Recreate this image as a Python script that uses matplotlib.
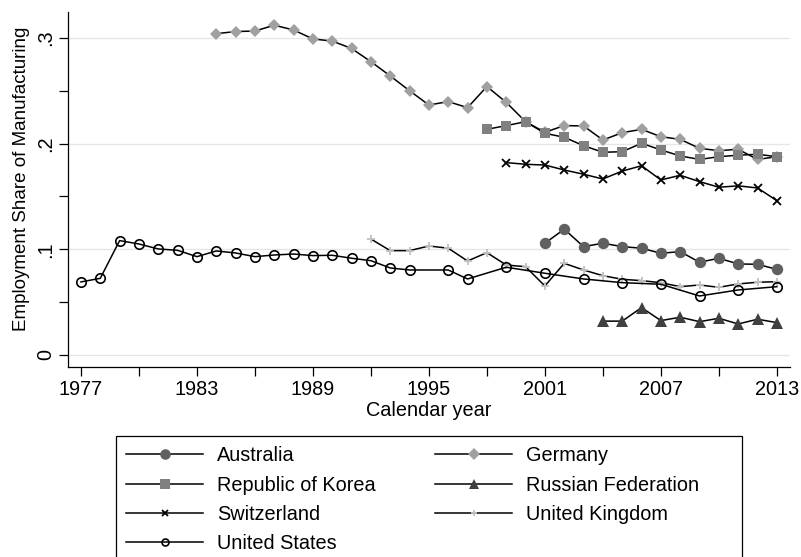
import matplotlib
matplotlib.use("Agg")
import matplotlib.pyplot as plt
from matplotlib.lines import Line2D
from matplotlib.patches import Rectangle
from matplotlib.ticker import MultipleLocator

plt.rcParams['font.family'] = ['Liberation Sans', 'DejaVu Sans']

# data
aus_years = list(range(2001, 2014))
aus_vals = [0.1057, 0.119, 0.1025, 0.1057, 0.1025, 0.101, 0.0962, 0.0978,
            0.0877, 0.0915, 0.0861, 0.0858, 0.081]

ger_years = list(range(1984, 2014))
ger_vals = [0.304, 0.306, 0.3065, 0.312, 0.3075, 0.299, 0.297, 0.290, 0.2775,
            0.264, 0.250, 0.2365, 0.2397, 0.234, 0.254, 0.239, 0.2207, 0.2107,
            0.217, 0.2167, 0.2034, 0.2103, 0.2135, 0.2065, 0.204, 0.1955,
            0.1933, 0.1946, 0.185, 0.1876]

kor_years = list(range(1998, 2014))
kor_vals = [0.2135, 0.217, 0.2207, 0.2097, 0.206, 0.198, 0.1918, 0.1923,
            0.2003, 0.194, 0.1883, 0.185, 0.1876, 0.189, 0.1899, 0.1876]

rus_years = list(range(2004, 2014))
rus_vals = [0.032, 0.032, 0.0448, 0.0325, 0.0357, 0.0315, 0.0347, 0.0293,
            0.0338, 0.0306]

swi_years = list(range(1999, 2014))
swi_vals = [0.182, 0.1804, 0.1797, 0.175, 0.171, 0.1665, 0.174, 0.179, 0.1656,
            0.170, 0.164, 0.1587, 0.160, 0.158, 0.146]

uk_years = list(range(1992, 2014))
uk_vals = [0.1097, 0.0987, 0.0987, 0.1031, 0.101, 0.0889, 0.0968, 0.0851,
           0.0835, 0.0653, 0.0867, 0.0804, 0.075, 0.0716, 0.0703, 0.0684,
           0.0646, 0.0662, 0.064, 0.0672, 0.0688, 0.0693]

us_years = list(range(1977, 1995)) + [1996, 1997, 1999, 2001, 2003, 2005,
                                      2007, 2009, 2011, 2013]
us_vals = [0.0691, 0.0725, 0.1082, 0.105, 0.1003, 0.099, 0.093, 0.0984, 0.0965,
           0.093, 0.0946, 0.0955, 0.094, 0.0943, 0.0915, 0.0892, 0.0823, 0.0804,
           0.0804, 0.0719, 0.083, 0.0773, 0.0719, 0.0684, 0.0669, 0.0558,
           0.0615, 0.0646]

xticks = [1977, 1983, 1989, 1995, 2001, 2007, 2013]
yticks = [0, 0.1, 0.2, 0.3]
ytick_labels = ['0', '.1', '.2', '.3']

FS = 14.3

# (label, years, values, marker, colour, size in plot, size in legend, edge width)
series = [
    ('Australia', aus_years, aus_vals, 'o', '#606060', 8.2, 7.6, 0),
    ('Germany', ger_years, ger_vals, 'D', '#a0a0a0', 6.6, 6.0, 0),
    ('Republic of Korea', kor_years, kor_vals, 's', '#808080', 7.4, 7.4, 0),
    ('Russian Federation', rus_years, rus_vals, '^', '#404040', 8.6, 7.6, 0),
    ('Switzerland', swi_years, swi_vals, 'x', 'black', 5.2, 4.0, 1.3),
    ('United Kingdom', uk_years, uk_vals, '+', '#c0c0c0', 6.0, 5.0, 1.3),
    ('United States', us_years, us_vals, 'o', 'none', 6.8, 5.0, 1.2),
]

fig = plt.figure(figsize=(8.01, 5.57), dpi=100)
ax = fig.add_axes([68 / 801, 1 - 367 / 557, 722 / 801, 355 / 557])


def marker_style(mk, col, mew):
    if mk in ('x', '+'):
        return dict(mec=col, mew=mew)
    if col == 'none':
        return dict(mfc='none', mec='black', mew=mew)
    return dict(mfc=col, mec=col, mew=0)


handles = {}
for name, yrs, vals, mk, col, ms, ms_leg, mew in series:
    st = marker_style(mk, col, mew)
    ax.plot(yrs, vals, color='black', lw=1.1, marker=mk, ms=ms, zorder=3, **st)
    handles[name] = Line2D([], [], color='black', lw=1.1, marker=mk,
                           ms=ms_leg, **st)

ax.set_xlim(1976.33, 2013.68)
ax.set_ylim(-0.0114, 0.3245)
ax.set_xticks(xticks)
ax.xaxis.set_minor_locator(MultipleLocator(3))
ax.set_yticks(yticks)
ax.set_yticklabels(ytick_labels, rotation=90, va='center')
ax.yaxis.set_minor_locator(MultipleLocator(0.05))
ax.tick_params(which='both', direction='out', length=6.5, width=0.9,
               labelsize=FS, colors='black')
ax.tick_params(axis='x', pad=3)
ax.tick_params(axis='y', pad=3)
ax.grid(axis='y', which='major', color='#e6e6e6', lw=1.0, zorder=0)
ax.set_axisbelow(True)
for s in ['top', 'right']:
    ax.spines[s].set_visible(False)
for s in ['left', 'bottom']:
    ax.spines[s].set_linewidth(0.9)

ax.set_xlabel('Calendar year', fontsize=FS, labelpad=1)
ax.set_ylabel('Employment Share of Manufacturing', fontsize=13.5)
ax.yaxis.set_label_coords(-0.052, 0.53)

order = ['Australia', 'Republic of Korea', 'Switzerland', 'United States',
         'Germany', 'Russian Federation', 'United Kingdom']
leg = fig.legend([handles[n] for n in order], order, ncol=2,
                 loc='upper left',
                 bbox_to_anchor=(116 / 801, 1 - 436 / 557),
                 fontsize=FS, frameon=False,
                 borderaxespad=0, borderpad=0.52, labelspacing=0.52,
                 handlelength=3.87, handletextpad=0.7, columnspacing=3.0)

# legend box: runs off the bottom of the picture as in the reference
fig.patches.append(Rectangle((116 / 801, -0.05), 626 / 801,
                             1 - 436 / 557 + 0.05, transform=fig.transFigure,
                             fill=False, edgecolor='black', lw=0.9))

fig.savefig('out.png', dpi=100)
